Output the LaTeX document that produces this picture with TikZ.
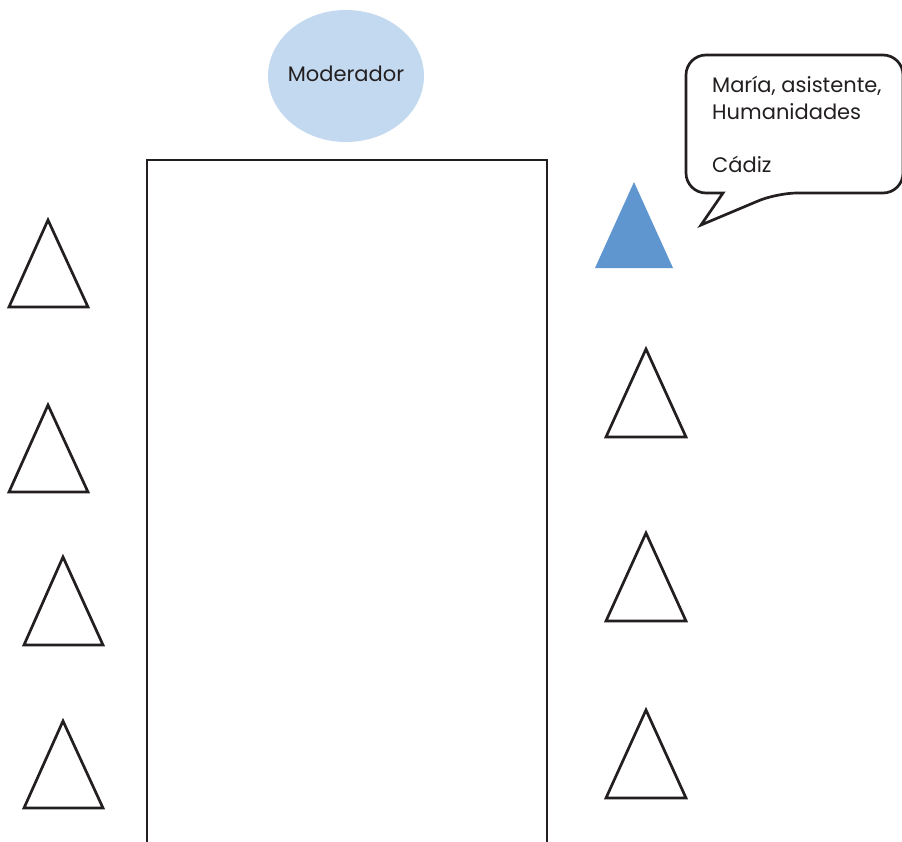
\documentclass[tikz,border=0pt]{standalone}
\usepackage{fontspec}
\usetikzlibrary{shapes.geometric}
\setmainfont{Poppins}
\definecolor{inkc}{HTML}{231F20}
\definecolor{modfill}{HTML}{C3D9F0}
\definecolor{mariafill}{HTML}{6096CF}
\begin{document}
\begin{tikzpicture}[x=1pt,y=-1pt,
  tri/.style={draw=inkc,line width=2.7pt,line join=miter},
  lbl/.style={font=\fontsize{21}{27}\selectfont,text=inkc}]
\useasboundingbox (0,0) rectangle (902,841);
% table
\draw[inkc,line width=2.6pt] (147,845) -- (147,160) -- (547,160) -- (547,845);
% moderator
\node[ellipse,fill=modfill,minimum width=156pt,minimum height=132pt,inner sep=0pt] (mod) at (346,76) {};
\node[lbl,anchor=base] (modtxt) at (346,81) {Moderador};
% left triangles
\draw[tri] (48,220) -- (88,307) -- (9,307) -- cycle;
\draw[tri] (48,405) -- (88,492) -- (9,492) -- cycle;
\draw[tri] (63,557) -- (103,645) -- (24,645) -- cycle;
\draw[tri] (63,721) -- (103,808) -- (24,808) -- cycle;
% right triangles
\fill[mariafill] (634,182) -- (673,268) -- (595,268) -- cycle;
\draw[tri] (646,349) -- (686,437) -- (606,437) -- cycle;
\draw[tri] (646,533) -- (686,621) -- (606,621) -- cycle;
\draw[tri] (646,710) -- (686,798) -- (606,798) -- cycle;
% speech bubble
\draw[inkc,line width=2.7pt,rounded corners=20pt] (723,193) -- (686,193) -- (686,55) -- (903,55) -- (903,193) -- (777,193) [sharp corners] -- (701,225) -- cycle;
\node[lbl,anchor=north west,align=left,inner sep=0pt] (maria) at (712,76) {María, asistente,\\Humanidades\\[26pt]Cádiz};
\end{tikzpicture}
\end{document}
